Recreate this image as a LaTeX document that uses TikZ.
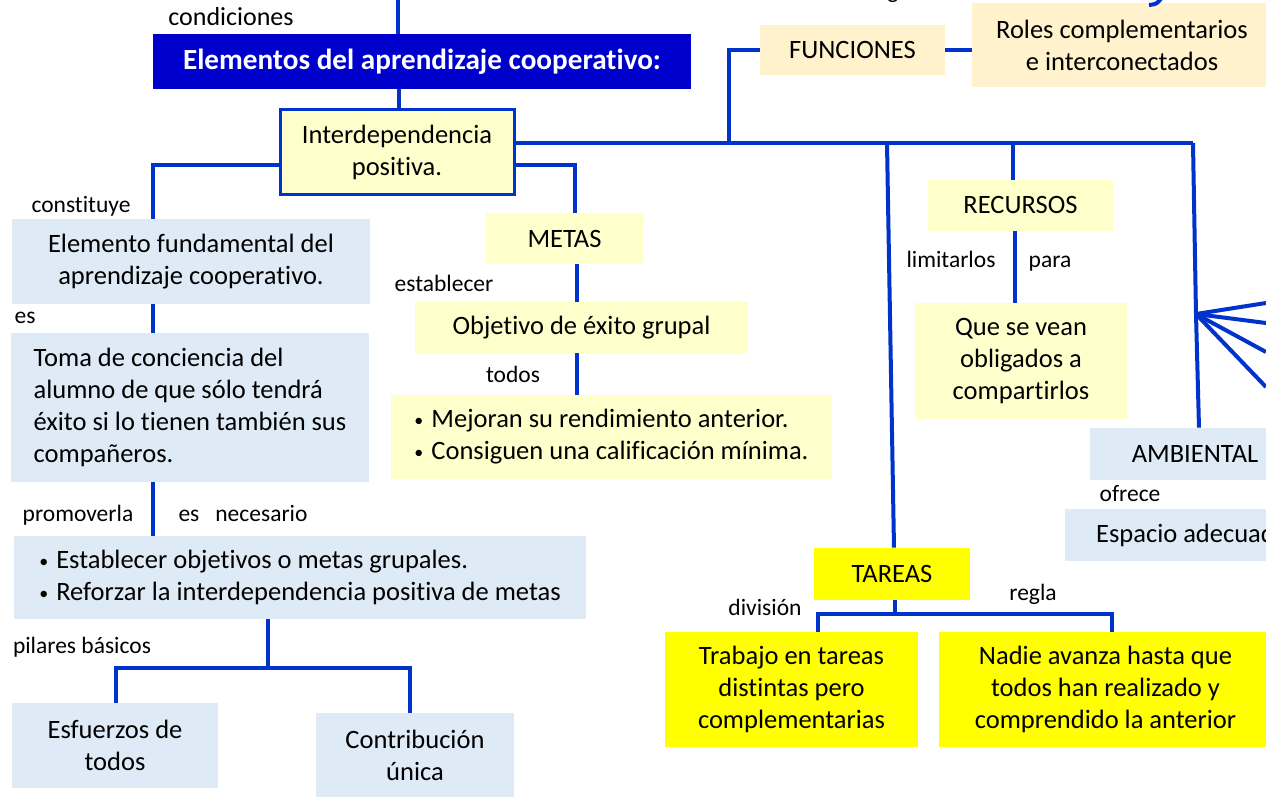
\documentclass[tikz,border=0pt]{standalone}
\usepackage{fontspec}
\setmainfont{Carlito}[Ligatures={NoCommon}]
\definecolor{lnblue}{RGB}{0,51,204}
\definecolor{ttlblue}{RGB}{0,0,204}
\definecolor{lblue}{RGB}{222,234,246}
\definecolor{lyel}{RGB}{255,255,204}
\definecolor{cream}{RGB}{255,242,204}
\definecolor{yel}{RGB}{255,255,0}
\newcommand{\bxfont}{\fontsize{13.25pt}{16pt}\selectfont}
\newcommand{\lbfont}{\fontsize{11.75pt}{14pt}\selectfont}
\newcommand{\bul}{\makebox[8.5pt][l]{\raisebox{0.6pt}{\fontsize{9pt}{9pt}\selectfont •}}}
\begin{document}
\begin{tikzpicture}[x=0.5pt,y=-0.5pt,
  bx/.style={inner sep=0pt, align=center, font=\bxfont, text=black},
  lb/.style={inner sep=0pt, font=\lbfont, text=black, anchor=base},
  ln/.style={draw=lnblue, line width=2pt},
]
\useasboundingbox (0,0) rectangle (1266,797);
\clip (0,0) rectangle (1266,797);

% ---------- nodes ----------
\node[bx, fill=ttlblue, minimum width=269pt, minimum height=27.5pt, font=\fontsize{14.6pt}{17pt}\selectfont\bfseries, text=white] (elem) at (422,61.5) {Elementos del aprendizaje cooperativo:};
\node[lb, font=\fontsize{13pt}{15pt}\selectfont] (lcond) at (231,26) {condiciones};
\node[lb] (gcut) at (893,-1) {g};
\node[bx, fill=lyel, draw=lnblue, line width=1.5pt, minimum width=117pt, minimum height=42.5pt] (inter) at (397,152.5) {Interdependencia\\positiva.};

\node[bx, fill=cream, minimum width=92.5pt, minimum height=25pt] (func) at (852.5,50) {FUNCIONES};
\node[bx, fill=cream, minimum width=150pt, minimum height=42pt] (roles) at (1122,45) {Roles complementarios\\e interconectados};

\node[bx, fill=lyel, minimum width=92.5pt, minimum height=25.5pt] (recursos) at (1020.5,205.5) {RECURSOS};
\node[bx, fill=lyel, minimum width=106pt, minimum height=58pt] (quese) at (1021,361) {Que se vean\\obligados a\\compartirlos};
\node[lb] (llim) at (951,268) {limitarlos};
\node[lb] (lpara) at (1050,268) {para};

\node[bx, fill=lblue, minimum width=105pt, minimum height=26pt] (ambiental) at (1195,454) {AMBIENTAL};
\node[lb] (lofrece) at (1130,502) {ofrece};
\node[bx, fill=lblue, minimum width=127.5pt, minimum height=26pt] (espacio) at (1192.5,535) {Espacio adecuado};

\node[bx, fill=yel, minimum width=78pt, minimum height=26pt] (tareas) at (892,574) {TAREAS};
\node[lb] (ldiv) at (765,615) {división};
\node[lb] (lregla) at (1033,600) {regla};
\node[bx, fill=yel, minimum width=126.5pt, minimum height=57.5pt] (trabajo) at (791.5,689.5) {Trabajo en tareas\\distintas pero\\complementarias};
\node[bx, fill=yel, minimum width=166.5pt, minimum height=57.5pt] (nadie) at (1105.5,689.5) {Nadie avanza hasta que\\todos han realizado y\\comprendido la anterior};

\node[lb] (lconst) at (81,213) {constituye};
\node[bx, fill=lblue, minimum width=179pt, minimum height=42.5pt] (elemento) at (191,261.5) {Elemento fundamental del\\aprendizaje cooperativo.};
\node[lb] (les) at (25,323) {es};
\node[bx, fill=lblue, minimum width=179pt, minimum height=74.5pt, align=left] (toma) at (190,407.5) {Toma de conciencia del\\alumno de que sólo tendrá\\éxito si lo tienen también sus\\compañeros.};
\node[lb] (lprom) at (78,521) {promoverla};
\node[lb] (lnec) at (243,521) {es\hspace{8pt}necesario};
\node[bx, fill=lblue, minimum width=286pt, minimum height=41.5pt, align=left] (establecer) at (300,577.5) {\bul Establecer objetivos o metas grupales.\\\bul Reforzar la interdependencia positiva de metas};
\node[lb] (lpil) at (82,653) {pilares básicos};
\node[bx, fill=lblue, minimum width=103pt, minimum height=42.5pt] (esfuerzos) at (115,745.5) {Esfuerzos de\\todos};
\node[bx, fill=lblue, minimum width=99pt, minimum height=42pt] (contrib) at (415,755) {Contribución\\única};

\node[bx, fill=lyel, minimum width=78.5pt, minimum height=25.5pt] (metas) at (564.5,238.5) {METAS};
\node[lb] (lest) at (444,292) {establecer};
\node[bx, fill=lyel, minimum width=166.5pt, minimum height=25.5pt] (objetivo) at (581.5,327.5) {Objetivo de éxito grupal};
\node[lb] (ltodos) at (513,382) {todos};
\node[bx, fill=lyel, minimum width=220.5pt, minimum height=42pt, align=left] (mejoran) at (611.5,437) {\bul Mejoran su rendimiento anterior.\\\bul Consiguen una calificación mínima.};

% ---------- coordinates ----------
\coordinate (ctop) at (398,-5);
\coordinate (c1) at (399,0);
\coordinate (mR) at (1193,143);
\coordinate (mF) at (729,143);
\coordinate (mT) at (887,143);
\coordinate (tT) at (894,0);
\coordinate (mRc) at (1013,143);
\coordinate (cR) at (1015,0);
\coordinate (fan) at (1196,314);
\coordinate (cA) at (1199,0);
\coordinate (f1) at (1266,303);
\coordinate (f2) at (1266,323);
\coordinate (f3) at (1266,352);
\coordinate (f4) at (1266,387);
\coordinate (tb) at (895,614);
\coordinate (tL) at (818,614);
\coordinate (tRr) at (1112,614);
\coordinate (lA) at (153,165);
\coordinate (pB) at (268,668);
\coordinate (pL) at (116,668);
\coordinate (pR) at (410,668);
\coordinate (mA) at (575,165);
\coordinate (mB) at (577,0);
\coordinate (arcA) at (1149,5);
\coordinate (arcB) at (1163,-4);

% ---------- connectors ----------
\draw[ln] (ctop) -- (ctop |- elem.north);
\draw[ln] (c1 |- elem.south) -- (c1 |- inter.north);
\draw[ln] (inter.east |- mR) -- (mR);
\draw[ln] (mF) |- (func.west);
\draw[ln] (func.east) -- (roles.west |- func.east);
\draw[ln] (mT) -- (tT |- tareas.north);
\draw[ln] (mRc) -- (mRc |- recursos.north);
\draw[ln] (cR |- recursos.south) -- (cR |- quese.north);
\draw[ln] (mR) -- (fan) -- (cA |- ambiental.north);
\draw[ln] (fan) -- (f1);
\draw[ln] (fan) -- (f2);
\draw[ln] (fan) -- (f3);
\draw[ln] (fan) -- (f4);
\draw[ln] (tb |- tareas.south) -- (tb);
\draw[ln] (tL |- trabajo.north) -- (tL) -- (tRr) -- (tRr |- nadie.north);
\draw[ln] (inter.west |- lA) -- (lA) -- (lA |- elemento.north);
\draw[ln] (lA |- elemento.south) -- (lA |- toma.north);
\draw[ln] (lA |- toma.south) -- (lA |- establecer.north);
\draw[ln] (pB |- establecer.south) -- (pB);
\draw[ln] (pL |- esfuerzos.north) -- (pL) -- (pR) -- (pR |- contrib.north);
\draw[ln] (inter.east |- mA) -- (mA) -- (mA |- metas.north);
\draw[ln] (mB |- metas.south) -- (mB |- objetivo.north);
\draw[ln] (mB |- objetivo.south) -- (mB |- mejoran.north);
\draw[ln] (arcA) .. controls (1157,4) .. (arcB);
\end{tikzpicture}
\end{document}
